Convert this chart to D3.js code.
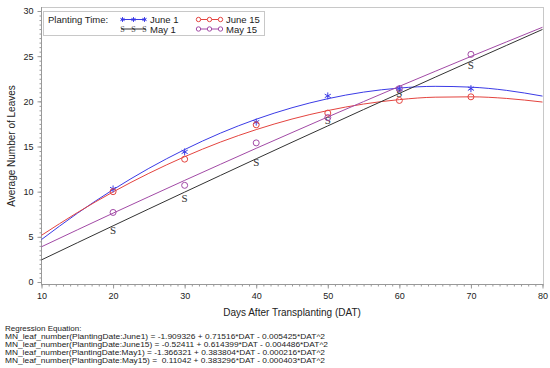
<!DOCTYPE html>
<html><head><meta charset="utf-8">
<script src="https://cdn.jsdelivr.net/npm/d3@7"></script>
<style>body{margin:0;background:#fff}svg{display:block;font-family:"Liberation Sans",Arial,sans-serif}</style>
</head><body><svg id="c" width="550" height="368"></svg>
<script>
// observed means
const obsDAT = [20, 30, 40, 50, 60, 70];
const june1Obs = [10.3, 14.4, 17.7, 20.6, 21.4, 21.4];
const june15Obs = [10.0, 13.6, 17.4, 18.7, 20.1, 20.5];
const may1Obs = [5.8, 9.3, 13.3, 17.9, 20.9, 24.0];
const may15Obs = [7.7, 10.7, 15.4, 18.2, 21.4, 25.2];
// fitted curve values
const fitDAT = [10, 15, 20, 25, 30, 35, 40, 45, 50, 55, 60, 65, 70, 75, 80];
const june1Fit = [4.70, 7.60, 10.22, 12.58, 14.66, 16.48, 18.02, 19.29, 20.29, 21.02, 21.47, 21.66, 21.57, 21.21, 20.58];
const june15Fit = [5.17, 7.68, 9.97, 12.03, 13.87, 15.49, 16.87, 18.04, 18.98, 19.70, 20.19, 20.46, 20.50, 20.32, 19.92];
const may1Fit = [2.45, 4.34, 6.22, 8.09, 9.95, 11.80, 13.64, 15.47, 17.28, 19.09, 20.88, 22.67, 24.44, 26.20, 27.96];
const may15Fit = [3.90, 5.77, 7.62, 9.44, 11.25, 13.03, 14.80, 16.54, 18.27, 19.97, 21.66, 23.32, 24.97, 26.59, 28.20];
const xTicks = [10, 20, 30, 40, 50, 60, 70, 80];
const yTicks = [0, 5, 10, 15, 20, 25, 30];
const equations = [
  "Regression Equation:",
  "MN_leaf_number(PlantingDate:June1) = -1.909326 + 0.71516*DAT - 0.005425*DAT^2",
  "MN_leaf_number(PlantingDate:June15) = -0.52411 + 0.614399*DAT - 0.004486*DAT^2",
  "MN_leaf_number(PlantingDate:May1) = -1.366321 + 0.383804*DAT - 0.000216*DAT^2",
  "MN_leaf_number(PlantingDate:May15) =  0.11042 + 0.383296*DAT - 0.000403*DAT^2"
];

const series = [
  {name: "June 1", color: "#3b3be6", marker: "star", obs: june1Obs, fit: june1Fit},
  {name: "June 15", color: "#e4443f", marker: "circle", obs: june15Obs, fit: june15Fit},
  {name: "May 1", color: "#333333", marker: "S", obs: may1Obs, fit: may1Fit},
  {name: "May 15", color: "#a24aa6", marker: "circle", obs: may15Obs, fit: may15Fit}
];

const svg = d3.select("#c");
const L = 41, R = 543, T = 7, B = 284;
const x = d3.scaleLinear().domain([10, 80]).range([41.5, 542.5]);
const y = d3.scaleLinear().domain([0, 30]).range([282, 11]);

// frame
svg.append("rect").attr("x", L + 0.5).attr("y", T + 0.5).attr("width", R - L).attr("height", B - T)
  .attr("fill", "none").attr("stroke", "#c8c8c8");

// x axis
const gx = svg.append("g").attr("transform", `translate(0,${B + 0.5})`);
gx.call(d3.axisBottom(x).tickValues(d3.range(10, 81, 1)).tickSize(2).tickFormat(""));
gx.call(g => g.select(".domain").remove());
gx.selectAll("line").attr("stroke", "#999");
const gx2 = svg.append("g").attr("transform", `translate(0,${B + 0.5})`);
gx2.call(d3.axisBottom(x).tickValues(xTicks).tickSize(4).tickPadding(4).tickFormat(d3.format("d")));
gx2.select(".domain").attr("d", `M${L},0H${R + 0.5}`).attr("stroke", "#999");
gx2.selectAll("line").attr("stroke", "#999");
gx2.selectAll("text").attr("font-size", 9).attr("fill", "#222").attr("font-family", "Liberation Sans, Arial, sans-serif");

// y axis
const gy = svg.append("g").attr("transform", `translate(${L + 0.5},0)`);
gy.call(d3.axisLeft(y).tickValues(d3.range(0, 30.01, 0.5)).tickSize(2).tickFormat(""));
gy.call(g => g.select(".domain").remove());
gy.selectAll("line").attr("stroke", "#999");
const gy2 = svg.append("g").attr("transform", `translate(${L + 0.5},0)`);
gy2.call(d3.axisLeft(y).tickValues(yTicks).tickSize(4).tickPadding(4).tickFormat(d3.format("d")));
gy2.select(".domain").attr("d", `M0,${T}V${B + 0.5}`).attr("stroke", "#999");
gy2.selectAll("line").attr("stroke", "#999");
gy2.selectAll("text").attr("font-size", 9).attr("fill", "#222").attr("font-family", "Liberation Sans, Arial, sans-serif");

// axis titles
svg.append("text").attr("x", 292).attr("y", 316).attr("text-anchor", "middle")
  .attr("font-size", 10).attr("fill", "#222").text("Days After Transplanting (DAT)");
svg.append("text").attr("transform", "translate(15,146) rotate(-90)").attr("text-anchor", "middle")
  .attr("font-size", 10).attr("fill", "#222").text("Average Number of Leaves");

// curves
const line = d3.line().x((d, i) => x(fitDAT[i])).y(d => y(d)).curve(d3.curveMonotoneX);
const plot = svg.append("g");
series.forEach(s => {
  plot.append("path").attr("d", line(s.fit)).attr("fill", "none").attr("stroke", s.color).attr("stroke-width", 1);
});

function drawMarker(g, s, cx, cy) {
  if (s.marker === "circle") {
    g.append("circle").attr("cx", cx).attr("cy", cy).attr("r", 3).attr("fill", "none").attr("stroke", s.color).attr("stroke-width", 1);
  } else if (s.marker === "star") {
    const r = 3.5;
    const p = [[0, -r, 0, r], [-r * 0.87, -r * 0.5, r * 0.87, r * 0.5], [-r * 0.87, r * 0.5, r * 0.87, -r * 0.5]];
    p.forEach(a => g.append("line").attr("x1", cx + a[0]).attr("y1", cy + a[1]).attr("x2", cx + a[2]).attr("y2", cy + a[3]).attr("stroke", s.color).attr("stroke-width", 1));
  } else {
    g.append("text").attr("x", cx).attr("y", cy + 4).attr("text-anchor", "middle").attr("font-size", 11)
      .attr("font-family", "Liberation Serif, Times New Roman, serif").attr("fill", s.color).text("S");
  }
}
series.forEach(s => {
  s.obs.forEach((v, i) => drawMarker(plot, s, x(obsDAT[i]), y(v)));
});

// legend
svg.append("rect").attr("x", 43.5).attr("y", 11.5).attr("width", 221).attr("height", 24)
  .attr("fill", "#fff").attr("stroke", "#c8c8c8");
svg.append("text").attr("x", 48).attr("y", 23).attr("font-size", 9.5).attr("fill", "#222").text("Planting Time:");
const legPos = [[121, 19.5], [197, 19.5], [121, 29], [197, 29]];
series.forEach((s, i) => {
  const [lx, ly] = legPos[i];
  const lg = svg.append("g");
  lg.append("line").attr("x1", lx).attr("x2", lx + 25).attr("y1", ly).attr("y2", ly).attr("stroke", s.color).attr("stroke-width", 1);
  [lx + 1.5, lx + 12.5, lx + 23.5].forEach(mx => {
    if (s.marker === "S") {
      lg.append("text").attr("x", mx).attr("y", ly + 3).attr("text-anchor", "middle").attr("font-size", 8)
        .attr("font-family", "Liberation Serif, serif").attr("fill", s.color).text("S");
    } else if (s.marker === "circle") {
      lg.append("circle").attr("cx", mx).attr("cy", ly).attr("r", 2.2).attr("fill", "#fff").attr("stroke", s.color);
    } else {
      const r = 2.4;
      [[0, -r, 0, r], [-r * 0.87, -r * 0.5, r * 0.87, r * 0.5], [-r * 0.87, r * 0.5, r * 0.87, -r * 0.5]].forEach(a =>
        lg.append("line").attr("x1", mx + a[0]).attr("y1", ly + a[1]).attr("x2", mx + a[2]).attr("y2", ly + a[3]).attr("stroke", s.color));
    }
  });
  lg.append("text").attr("x", lx + 29).attr("y", ly + 3.5).attr("font-size", 9.5).attr("fill", "#222").text(s.name);
});

// regression equations
const endX = [null, 325, 328, 325, 325];
equations.forEach((t, i) => {
  const tx = svg.append("text").attr("x", 5).attr("y", 331 + i * 8).attr("font-size", 8)
    .attr("fill", "#222").attr("xml:space", "preserve").style("white-space", "pre").text(t);
  if (i > 0) tx.attr("textLength", endX[i] - 5).attr("lengthAdjust", "spacingAndGlyphs");
});
</script>
</body></html>
